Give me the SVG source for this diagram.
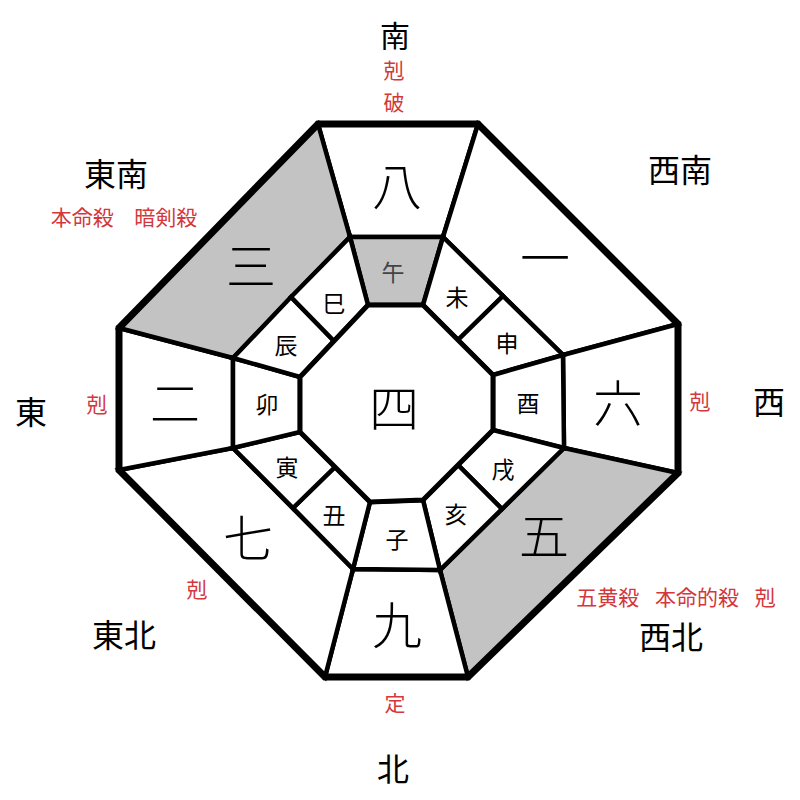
<svg xmlns="http://www.w3.org/2000/svg" width="800" height="800" viewBox="0 0 800 800">
<style>
text{font-family:"Noto Sans CJK JP","Noto Sans CJK SC",sans-serif;text-anchor:middle;dominant-baseline:central}
.cell{fill:#fff;stroke:#000;stroke-width:4.5;stroke-linejoin:miter}
.gray{fill:#c3c3c3}
.big{font-size:50px;font-weight:300;fill:#000}
.br{font-size:23px;fill:#000}
.dir{font-size:32px;fill:#000}
.red{font-size:21px;fill:#d2383c}
</style>
<rect width="800" height="800" fill="#fff"/>
<g id="stars">
<g id="s8"><polygon class="cell" points="318,124 478,124 443,237 350,237"/><text class="big" x="397" y="183">八</text></g>
<g id="s1"><polygon class="cell" points="478,124 678,324 563,355 443,237"/><text class="big" x="545" y="255">一</text></g>
<g id="s6"><polygon class="cell" points="678,324 678,473 564,448 563,355"/><text class="big" x="618" y="400">六</text></g>
<g id="s5"><polygon class="cell gray" points="678,473 468,677 440,570 564,448"/><text class="big" x="544" y="533">五</text></g>
<g id="s9"><polygon class="cell" points="468,677 325,677 353,569 440,570"/><text class="big" x="397" y="622">九</text></g>
<g id="s7"><polygon class="cell" points="325,677 119,470 233,448 353,569"/><text class="big" x="248" y="535">七</text></g>
<g id="s2"><polygon class="cell" points="119,470 119,328 233,358 233,448"/><text class="big" x="175" y="400">二</text></g>
<g id="s3"><polygon class="cell gray" points="119,328 318,124 350,237 233,358"/><text class="big" x="251" y="263">三</text></g>
</g>
<g id="branches">
<g id="b-uma"><polygon class="cell gray" points="350,237 443,237 423,305 368,305"/><text class="br" x="393" y="271" style="fill:#444">午</text></g>
<g id="b-hitsuji"><polygon class="cell" points="443,237 503,296 458,340 423,305"/><text class="br" x="457" y="296">未</text></g>
<g id="b-saru"><polygon class="cell" points="503,296 563,355 493,375 458,340"/><text class="br" x="507" y="342">申</text></g>
<g id="b-tori"><polygon class="cell" points="563,355 564,448 493,430 493,375"/><text class="br" x="528" y="402">酉</text></g>
<g id="b-inu"><polygon class="cell" points="564,448 502,509 458,465 493,430"/><text class="br" x="503" y="468">戌</text></g>
<g id="b-i"><polygon class="cell" points="502,509 440,570 423,500 458,465"/><text class="br" x="456" y="513">亥</text></g>
<g id="b-ne"><polygon class="cell" points="440,570 353,569 370,502 423,500"/><text class="br" x="397" y="538">子</text></g>
<g id="b-ushi"><polygon class="cell" points="353,569 293,508 335,467 370,502"/><text class="br" x="334" y="514">丑</text></g>
<g id="b-tora"><polygon class="cell" points="293,508 233,448 300,432 335,467"/><text class="br" x="287" y="466">寅</text></g>
<g id="b-u"><polygon class="cell" points="233,448 233,358 300,377 300,432"/><text class="br" x="267" y="403">卯</text></g>
<g id="b-tatsu"><polygon class="cell" points="233,358 291,297 334,341 300,377"/><text class="br" x="286" y="344">辰</text></g>
<g id="b-mi"><polygon class="cell" points="291,297 350,237 368,305 334,341"/><text class="br" x="334" y="302">巳</text></g>
</g>
<g id="center"><polygon points="368,305 423,305 493,375 493,430 423,500 370,502 300,432 300,377" fill="#fff" stroke="#000" stroke-width="5"/><text class="big" x="394" y="405">四</text></g>
<g id="frame"><polygon points="318,124 478,124 678,324 678,473 468,677 325,677 119,470 119,328" fill="none" stroke="#000" stroke-width="7"/></g>
<g id="directions">
<text class="dir" x="395" y="34" style="font-size:30px">南</text>
<text class="dir" x="116" y="172">東南</text>
<text class="dir" x="680" y="168">西南</text>
<text class="dir" x="31" y="410">東</text>
<text class="dir" x="769" y="400">西</text>
<text class="dir" x="124" y="633">東北</text>
<text class="dir" x="671" y="635">西北</text>
<text class="dir" x="393" y="767">北</text>
</g>
<g id="notes">
<text class="red" x="394" y="69">剋</text>
<text class="red" x="394" y="101">破</text>
<text class="red" x="124" y="216" style="word-spacing:16px">本命殺 暗剣殺</text>
<text class="red" x="97" y="403">剋</text>
<text class="red" x="700" y="400">剋</text>
<text class="red" x="197" y="588">剋</text>
<text class="red" x="676" y="596" style="word-spacing:11px">五黄殺 本命的殺 剋</text>
<text class="red" x="395" y="702">定</text>
</g>
</svg>
